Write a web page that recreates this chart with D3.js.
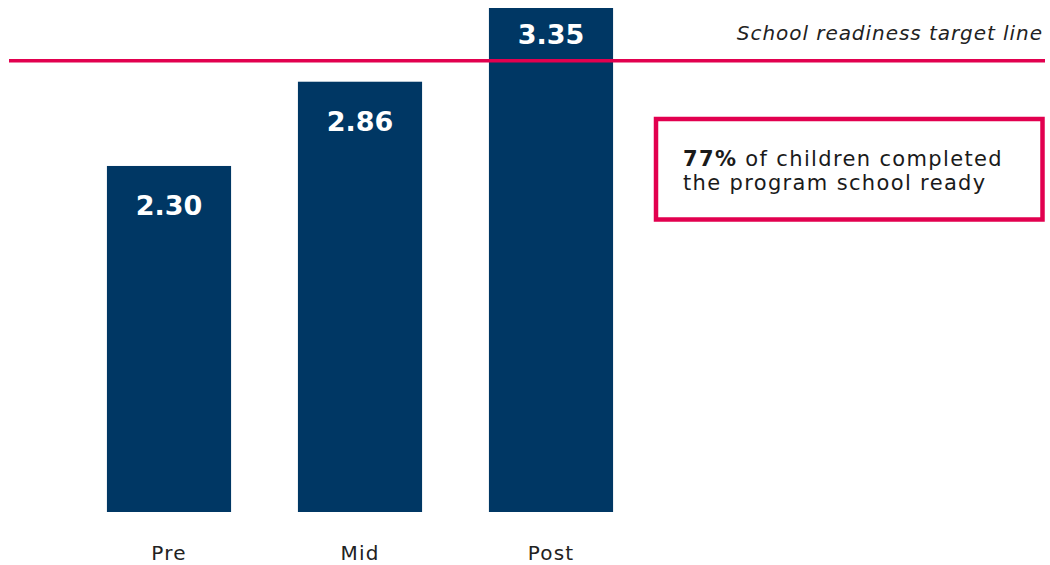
<!DOCTYPE html>
<html>
<head>
<meta charset="utf-8">
<script src="https://cdn.jsdelivr.net/npm/d3@7"></script>
<style>
  html, body { margin: 0; padding: 0; background: #ffffff; }
  svg { display: block; font-family: "DejaVu Sans", "Noto Sans", sans-serif; }
</style>
</head>
<body>
<svg id="chart" width="1050" height="565"></svg>
<script>
// Average school readiness score at each assessment point
const stages = ["Pre", "Mid", "Post"];
const scores = [2.30, 2.86, 3.35];
const targetScore = 3.0;
const targetLabel = "School readiness target line";
const calloutBold = "77%";
const calloutLines = [" of children completed", "the program school ready"];

const navy = "#003764";
const crimson = "#e2004f";

const svg = d3.select("#chart");

const x = d3.scaleBand()
  .domain(stages)
  .range([73.5, 646.5])
  .paddingInner(0.35)
  .paddingOuter(0.175);

const y = d3.scaleLinear()
  .domain([0, 3.35])
  .range([512, 8]);

// Bars
svg.append("g")
  .selectAll("rect")
  .data(stages)
  .join("rect")
  .attr("x", d => x(d))
  .attr("y", (d, i) => y(scores[i]))
  .attr("width", x.bandwidth())
  .attr("height", (d, i) => y(0) - y(scores[i]))
  .attr("fill", navy);

// Value labels: centred between bar top and target line when the bar passes it
svg.append("g")
  .selectAll("text")
  .data(stages)
  .join("text")
  .attr("x", d => x(d) + x.bandwidth() / 2)
  .attr("y", (d, i) => {
    const top = y(scores[i]);
    return scores[i] > targetScore ? (top + y(targetScore)) / 2 + 10 : top + 49;
  })
  .attr("text-anchor", "middle")
  .attr("fill", "#ffffff")
  .attr("font-weight", "bold")
  .attr("font-size", 27)
  .text((d, i) => scores[i].toFixed(2));

// Category axis
const xAxis = svg.append("g")
  .attr("transform", `translate(0,${y(0)})`)
  .call(d3.axisBottom(x).tickSize(0).tickPadding(34));
xAxis.select(".domain").remove();
xAxis.selectAll("text")
  .attr("font-size", 20)
  .attr("letter-spacing", 1.2)
  .attr("fill", "#222222")
  .attr("font-family", "\"DejaVu Sans\", sans-serif");

// Target line
svg.append("line")
  .attr("x1", 9)
  .attr("x2", 1045)
  .attr("y1", y(targetScore))
  .attr("y2", y(targetScore))
  .attr("stroke", crimson)
  .attr("stroke-width", 3.5);

svg.append("text")
  .attr("x", 1043)
  .attr("y", y(targetScore) - 21)
  .attr("text-anchor", "end")
  .attr("font-style", "italic")
  .attr("font-size", 20)
  .attr("letter-spacing", 0.95)
  .attr("fill", "#222222")
  .text(targetLabel);

// Callout box
const box = svg.append("g").attr("transform", "translate(656,119)");
box.append("rect")
  .attr("width", 386.5)
  .attr("height", 100.5)
  .attr("fill", "#ffffff")
  .attr("stroke", crimson)
  .attr("stroke-width", 4.5);

const t = box.append("text")
  .attr("x", 27)
  .attr("y", 47)
  .attr("font-size", 21)
  .attr("letter-spacing", 1.35)
  .attr("fill", "#1a1a1a");
t.append("tspan").attr("font-weight", "bold").text(calloutBold);
t.append("tspan").text(calloutLines[0]);
box.append("text")
  .attr("x", 27)
  .attr("y", 71)
  .attr("font-size", 21)
  .attr("letter-spacing", 1.35)
  .attr("fill", "#1a1a1a")
  .text(calloutLines[1]);
</script>
</body>
</html>
